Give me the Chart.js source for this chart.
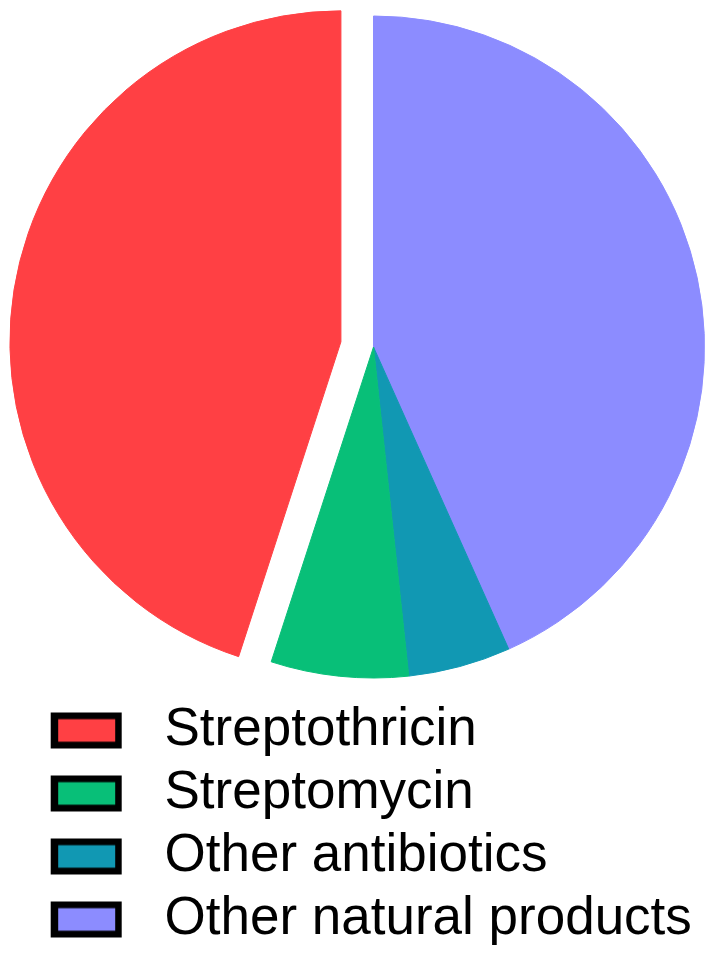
<!DOCTYPE html>
<html><head><meta charset="utf-8">
<script src="https://cdn.jsdelivr.net/npm/chart.js@4"></script>
<style>html,body{margin:0;padding:0;background:#fff}#wrap{width:713px;height:956px;position:relative}</style>
</head><body><div id="wrap"><canvas id="c"></canvas></div>
<script>
// Data (drawn clockwise from 12 o'clock)
const categories = ['Other natural products', 'Other antibiotics', 'Streptomycin', 'Streptothricin'];
const shares = [43.3, 5.0, 6.7, 45.0];
const colors = ['#8C8CFF', '#1198B3', '#08BF78', '#FF4044'];
const explode = [0, 0, 0, 33];

function swatch(color) {
  const c = document.createElement('canvas');
  c.width = 94; c.height = 40;
  const g = c.getContext('2d');
  g.fillStyle = '#000';
  g.fillRect(6.7, 2, 71, 36);
  g.fillStyle = color;
  g.fillRect(14.2, 8.7, 57, 22.5);
  return c;
}

const explodePlugin = {
  id: 'explodeSlice',
  afterDatasetsUpdate(chart) {
    const meta = chart.getDatasetMeta(0);
    meta.data.forEach((arc, i) => {
      const d = explode[i] || 0;
      if (!d) return;
      const mid = (arc.startAngle + arc.endAngle) / 2;
      arc.x += Math.cos(mid) * d;
      arc.y += Math.sin(mid) * d;
    });
  }
};

new Chart(document.getElementById('c'), {
  type: 'pie',
  data: {
    labels: categories,
    datasets: [{
      data: shares,
      backgroundColor: colors,
      borderColor: colors,
      borderWidth: 1
    }]
  },
  options: {
    responsive: true,
    maintainAspectRatio: false,
    animation: false,
    events: [],
    radius: 331,
    layout: { padding: { left: 34, right: 0, top: 0, bottom: 0 } },
    plugins: {
      tooltip: { enabled: false },
      legend: {
        position: 'bottom',
        align: 'start',
        reverse: true,
        labels: {
          color: '#000',
          font: { family: "'Liberation Sans', Arial, sans-serif", size: 53 },
          padding: 10,
          usePointStyle: true,
          pointStyleWidth: 94,
          generateLabels: (chart) => categories.map((t, i) => ({
            text: t,
            fillStyle: colors[i],
            strokeStyle: '#000',
            lineWidth: 0,
            fontColor: '#000',
            pointStyle: swatch(colors[i]),
            hidden: false,
            index: i
          }))
        }
      }
    }
  },
  plugins: [explodePlugin]
});
</script>
</body></html>
